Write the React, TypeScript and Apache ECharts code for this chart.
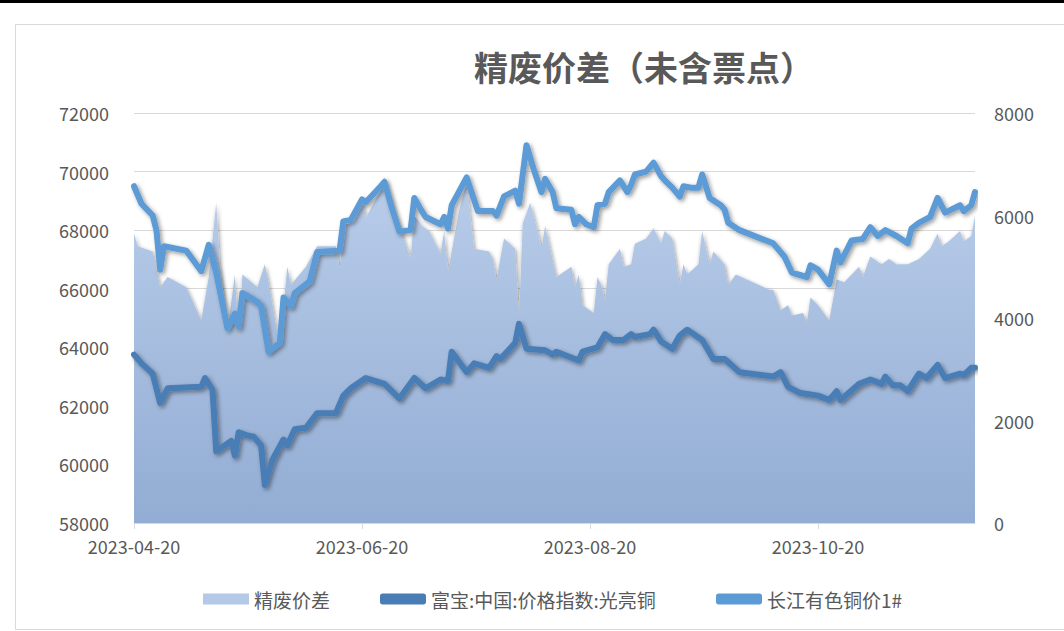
import React, { useEffect, useRef } from 'react';
import * as echarts from 'echarts';

const chartTitle = '精废价差（未含票点）';
const seriesNames = ['精废价差', '富宝:中国:价格指数:光亮铜', '长江有色铜价1#'];
const xTickLabels = ['2023-04-20', '2023-06-20', '2023-08-20', '2023-10-20'];
const xRange = ['2023-04-20', '2023-12-01'];
const leftAxis = { min: 58000, max: 72000, interval: 2000 };
const rightAxis = { min: 0, max: 8000, interval: 2000 };

const spreadData: [string, number][] = [
  ['2023-04-20', 5650], ['2023-04-21', 5400], ['2023-04-25', 5300], ['2023-04-27', 4600], ['2023-04-29', 4800],
  ['2023-05-04', 4600], ['2023-05-08', 3950], ['2023-05-10', 4800], ['2023-05-12', 6250], ['2023-05-13', 5050],
  ['2023-05-15', 3750], ['2023-05-17', 4850], ['2023-05-18', 3550], ['2023-05-19', 4850], ['2023-05-23', 4600],
  ['2023-05-25', 5050], ['2023-05-26', 4700], ['2023-05-28', 3850], ['2023-05-29', 3400], ['2023-05-31', 5000],
  ['2023-06-01', 4650], ['2023-06-05', 5000], ['2023-06-08', 5400], ['2023-06-13', 5400], ['2023-06-14', 4950],
  ['2023-06-15', 5800], ['2023-06-18', 5900], ['2023-06-20', 6350], ['2023-06-21', 5950], ['2023-06-25', 6500],
  ['2023-06-26', 6750], ['2023-06-29', 6000], ['2023-07-01', 5600], ['2023-07-03', 5150], ['2023-07-04', 6000],
  ['2023-07-06', 5800], ['2023-07-08', 5700], ['2023-07-11', 5250], ['2023-07-12', 5700], ['2023-07-13', 4900],
  ['2023-07-16', 6100], ['2023-07-18', 6650], ['2023-07-20', 5350], ['2023-07-24', 5300], ['2023-07-25', 5150],
  ['2023-07-26', 4750], ['2023-07-28', 5550], ['2023-07-31', 5350], ['2023-08-01', 4000], ['2023-08-02', 5850],
  ['2023-08-04', 6250], ['2023-08-06', 5700], ['2023-08-07', 5350], ['2023-08-08', 5800], ['2023-08-11', 4800],
  ['2023-08-15', 5000], ['2023-08-16', 4600], ['2023-08-17', 4850], ['2023-08-18', 4250], ['2023-08-21', 4100],
  ['2023-08-22', 4800], ['2023-08-23', 4650], ['2023-08-24', 4350], ['2023-08-25', 5050], ['2023-08-28', 5350],
  ['2023-08-29', 5000], ['2023-08-31', 5050], ['2023-09-01', 5450], ['2023-09-04', 5550], ['2023-09-06', 5750],
  ['2023-09-08', 5450], ['2023-09-09', 5700], ['2023-09-11', 5550], ['2023-09-13', 4650], ['2023-09-14', 5050],
  ['2023-09-15', 4850], ['2023-09-18', 5050], ['2023-09-19', 5700], ['2023-09-21', 5050], ['2023-09-22', 5300],
  ['2023-09-25', 5050], ['2023-09-26', 4650], ['2023-09-28', 4850], ['2023-10-07', 4550], ['2023-10-08', 4550],
  ['2023-10-10', 4150], ['2023-10-12', 4250], ['2023-10-13', 4050], ['2023-10-16', 4100], ['2023-10-17', 3900],
  ['2023-10-18', 4400], ['2023-10-20', 4250], ['2023-10-23', 3950], ['2023-10-25', 4750], ['2023-10-27', 4700],
  ['2023-10-29', 4850], ['2023-10-31', 5000], ['2023-11-01', 4800], ['2023-11-03', 5200], ['2023-11-06', 5050],
  ['2023-11-08', 5150], ['2023-11-10', 5050], ['2023-11-13', 5050], ['2023-11-16', 5150], ['2023-11-19', 5350],
  ['2023-11-21', 5650], ['2023-11-22', 5400], ['2023-11-24', 5500], ['2023-11-27', 5700], ['2023-11-28', 5500],
  ['2023-11-30', 5600], ['2023-12-01', 6000],
];

const fubaoData: [string, number][] = [
  ['2023-04-20', 63750], ['2023-04-22', 63450], ['2023-04-25', 63100], ['2023-04-27', 62100], ['2023-04-29', 62600],
  ['2023-05-08', 62650], ['2023-05-09', 62950], ['2023-05-11', 62550], ['2023-05-12', 60450], ['2023-05-16', 60800],
  ['2023-05-17', 60300], ['2023-05-18', 61100], ['2023-05-20', 61000], ['2023-05-22', 60950], ['2023-05-24', 60650],
  ['2023-05-25', 59300], ['2023-05-27', 60150], ['2023-05-30', 60850], ['2023-05-31', 60650], ['2023-06-02', 61200],
  ['2023-06-05', 61250], ['2023-06-08', 61750], ['2023-06-13', 61750], ['2023-06-15', 62350], ['2023-06-17', 62600],
  ['2023-06-21', 62950], ['2023-06-26', 62750], ['2023-06-30', 62250], ['2023-07-04', 62950], ['2023-07-07', 62600],
  ['2023-07-11', 62900], ['2023-07-13', 62850], ['2023-07-14', 63850], ['2023-07-18', 63150], ['2023-07-20', 63450],
  ['2023-07-24', 63300], ['2023-07-26', 63700], ['2023-07-27', 63600], ['2023-07-31', 64150], ['2023-08-01', 64800],
  ['2023-08-03', 63950], ['2023-08-08', 63900], ['2023-08-10', 63750], ['2023-08-11', 63850], ['2023-08-17', 63550],
  ['2023-08-18', 63850], ['2023-08-22', 64000], ['2023-08-24', 64450], ['2023-08-26', 64250], ['2023-08-29', 64250],
  ['2023-08-31', 64450], ['2023-09-01', 64350], ['2023-09-05', 64450], ['2023-09-06', 64600], ['2023-09-08', 64200],
  ['2023-09-11', 63950], ['2023-09-13', 64400], ['2023-09-15', 64600], ['2023-09-19', 64250], ['2023-09-22', 63600],
  ['2023-09-25', 63600], ['2023-09-29', 63150], ['2023-10-08', 63000], ['2023-10-10', 63150], ['2023-10-12', 62650],
  ['2023-10-15', 62450], ['2023-10-20', 62350], ['2023-10-23', 62200], ['2023-10-25', 62500], ['2023-10-26', 62200],
  ['2023-10-31', 62750], ['2023-11-03', 62900], ['2023-11-06', 62750], ['2023-11-07', 63000], ['2023-11-09', 62700],
  ['2023-11-11', 62700], ['2023-11-13', 62500], ['2023-11-16', 63100], ['2023-11-18', 62950], ['2023-11-21', 63400],
  ['2023-11-23', 62950], ['2023-11-27', 63100], ['2023-11-28', 63050], ['2023-11-30', 63300], ['2023-12-01', 63300],
];

const changjiangData: [string, number][] = [
  ['2023-04-20', 69500], ['2023-04-22', 68900], ['2023-04-25', 68500], ['2023-04-26', 68000], ['2023-04-27', 66650],
  ['2023-04-28', 67450], ['2023-05-04', 67300], ['2023-05-08', 66600], ['2023-05-10', 67500], ['2023-05-12', 66550],
  ['2023-05-15', 64650], ['2023-05-17', 65150], ['2023-05-18', 64700], ['2023-05-19', 65850], ['2023-05-23', 65550],
  ['2023-05-24', 65400], ['2023-05-26', 63850], ['2023-05-29', 64150], ['2023-05-30', 65700], ['2023-06-01', 65400],
  ['2023-06-02', 65850], ['2023-06-06', 66250], ['2023-06-08', 67250], ['2023-06-14', 67300], ['2023-06-15', 68300],
  ['2023-06-17', 68350], ['2023-06-20', 69050], ['2023-06-21', 68950], ['2023-06-25', 69500], ['2023-06-26', 69650],
  ['2023-06-28', 68750], ['2023-06-30', 67950], ['2023-07-03', 68000], ['2023-07-04', 69100], ['2023-07-06', 68650],
  ['2023-07-07', 68450], ['2023-07-11', 68200], ['2023-07-12', 68450], ['2023-07-13', 68050], ['2023-07-14', 68850],
  ['2023-07-18', 69800], ['2023-07-21', 68650], ['2023-07-25', 68650], ['2023-07-26', 68500], ['2023-07-28', 69150],
  ['2023-07-31', 69350], ['2023-08-01', 68900], ['2023-08-03', 70900], ['2023-08-05', 70050], ['2023-08-07', 69300],
  ['2023-08-08', 69750], ['2023-08-10', 69300], ['2023-08-11', 68750], ['2023-08-15', 68700], ['2023-08-16', 68200],
  ['2023-08-17', 68450], ['2023-08-19', 68200], ['2023-08-21', 68100], ['2023-08-22', 68850], ['2023-08-24', 68900],
  ['2023-08-25', 69300], ['2023-08-28', 69700], ['2023-08-30', 69300], ['2023-08-31', 69550], ['2023-09-01', 69900],
  ['2023-09-04', 70000], ['2023-09-06', 70300], ['2023-09-08', 69850], ['2023-09-09', 69700], ['2023-09-11', 69450],
  ['2023-09-13', 69150], ['2023-09-14', 69500], ['2023-09-16', 69450], ['2023-09-18', 69450], ['2023-09-19', 69900],
  ['2023-09-21', 69100], ['2023-09-24', 68850], ['2023-09-25', 68700], ['2023-09-26', 68250], ['2023-09-29', 68000],
  ['2023-10-08', 67550], ['2023-10-11', 67100], ['2023-10-13', 66550], ['2023-10-17', 66400], ['2023-10-18', 66800],
  ['2023-10-20', 66650], ['2023-10-23', 66150], ['2023-10-25', 67300], ['2023-10-26', 66900], ['2023-10-29', 67650],
  ['2023-11-01', 67700], ['2023-11-03', 68100], ['2023-11-05', 67800], ['2023-11-07', 68000], ['2023-11-10', 67800],
  ['2023-11-13', 67550], ['2023-11-14', 68050], ['2023-11-16', 68250], ['2023-11-19', 68450], ['2023-11-21', 69100],
  ['2023-11-23', 68600], ['2023-11-27', 68850], ['2023-11-28', 68650], ['2023-11-30', 68850], ['2023-12-01', 69300],
];

const FONT = '"Noto Sans CJK SC", "Microsoft YaHei", sans-serif';
const TEXT_COLOR = '#595959';

function toTime(s: string): number {
  const [y, m, d] = s.split('-').map(Number);
  return new Date(y, m - 1, d).getTime();
}

function fmtDate(v: number): string {
  const d = new Date(v);
  const p = (n: number) => (n < 10 ? '0' + n : '' + n);
  return d.getFullYear() + '-' + p(d.getMonth() + 1) + '-' + p(d.getDate());
}

const toSeries = (arr: [string, number][]) => arr.map(([d, v]) => [toTime(d), v]);

const lineShadow = {
  shadowColor: 'rgba(0,0,0,0.4)',
  shadowBlur: 4,
  shadowOffsetX: 2,
  shadowOffsetY: 2,
};

export default function App() {
  const ref = useRef<HTMLDivElement>(null);
  useEffect(() => {
    if (!ref.current) return;
    const chart = echarts.init(ref.current, undefined, { renderer: 'svg' });
    const tickValues = xTickLabels.map(toTime);
    const legendBase = {
      top: 583,
      itemWidth: 46,
      itemHeight: 11,
      textStyle: { color: TEXT_COLOR, fontSize: 19, fontFamily: FONT, lineHeight: 22 },
      selectedMode: false,
    };
    chart.setOption({
      animation: false,
      backgroundColor: '#ffffff',
      textStyle: { fontFamily: FONT },
      title: {
        text: chartTitle,
        left: 469,
        top: 44,
        textStyle: { color: TEXT_COLOR, fontSize: 34, fontWeight: 'bold', fontFamily: FONT },
      },
      graphic: [
        { type: 'rect', shape: { x: 0, y: 0, width: 1064, height: 3 }, style: { fill: '#000000' }, silent: true },
        {
          type: 'rect',
          shape: { x: 15.5, y: 24.5, width: 1100, height: 605 },
          style: { fill: 'none', stroke: '#d9d9d9', lineWidth: 1 },
          silent: true,
          z: -1,
        },
      ],
      legend: [
        { ...legendBase, left: 198, data: [{ name: seriesNames[0], icon: 'rect', itemStyle: { color: '#b4c9e8' } }] },
        { ...legendBase, left: 375, data: [{ name: seriesNames[1], icon: 'roundRect' }] },
        { ...legendBase, left: 711, data: [{ name: seriesNames[2], icon: 'roundRect' }] },
      ],
      grid: { left: 134, right: 89, top: 113, bottom: 108 },
      xAxis: {
        type: 'value',
        min: toTime(xRange[0]),
        max: toTime(xRange[1]),
        scale: true,
        axisLine: { show: true, lineStyle: { color: '#d9d9d9', width: 1 } },
        axisTick: { show: true, customValues: tickValues, length: 6, lineStyle: { color: '#d9d9d9' } },
        axisLabel: {
          customValues: tickValues,
          formatter: (v: number) => fmtDate(v),
          color: TEXT_COLOR,
          fontSize: 18,
          fontFamily: FONT,
          margin: 14,
          hideOverlap: false,
        },
        splitLine: { show: false },
      },
      yAxis: [
        {
          type: 'value',
          min: leftAxis.min,
          max: leftAxis.max,
          interval: leftAxis.interval,
          axisLine: { show: false },
          axisTick: { show: false },
          axisLabel: {
            color: TEXT_COLOR,
            fontSize: 18,
            fontFamily: FONT,
            margin: 25,
            formatter: (v: number) => String(v),
          },
          splitLine: { show: true, lineStyle: { color: '#d9d9d9', width: 1 } },
        },
        {
          type: 'value',
          min: rightAxis.min,
          max: rightAxis.max,
          interval: rightAxis.interval,
          axisLine: { show: false },
          axisTick: { show: false },
          axisLabel: {
            color: TEXT_COLOR,
            fontSize: 18,
            fontFamily: FONT,
            margin: 19,
            formatter: (v: number) => String(v),
          },
          splitLine: { show: false },
        },
      ],
      series: [
        {
          name: seriesNames[0],
          type: 'line',
          yAxisIndex: 1,
          data: toSeries(spreadData),
          symbol: 'none',
          lineStyle: { width: 0 },
          itemStyle: { color: '#b4c9e8' },
          areaStyle: {
            color: new echarts.graphic.LinearGradient(0, 0, 0, 1, [
              { offset: 0, color: '#b9cdea' },
              { offset: 1, color: '#92acd3' },
            ]),
            opacity: 1,
            shadowColor: 'rgba(0,0,0,0.45)',
            shadowBlur: 4,
            shadowOffsetX: 1,
            shadowOffsetY: 2,
          },
          z: 1,
        },
        {
          name: seriesNames[1],
          type: 'line',
          yAxisIndex: 0,
          data: toSeries(fubaoData),
          symbol: 'none',
          itemStyle: { color: '#4a7db5' },
          lineStyle: { width: 6, color: '#4a7db5', cap: 'round', join: 'round', ...lineShadow },
          z: 2,
        },
        {
          name: seriesNames[2],
          type: 'line',
          yAxisIndex: 0,
          data: toSeries(changjiangData),
          symbol: 'none',
          itemStyle: { color: '#5b9bd5' },
          lineStyle: { width: 6, color: '#5b9bd5', cap: 'round', join: 'round', ...lineShadow },
          z: 3,
        },
      ],
    });
    return () => chart.dispose();
  }, []);
  return (
    <div
      ref={ref}
      style={{ position: 'fixed', left: 0, top: 0, width: 1064, height: 631, background: '#fff' }}
    />
  );
}
